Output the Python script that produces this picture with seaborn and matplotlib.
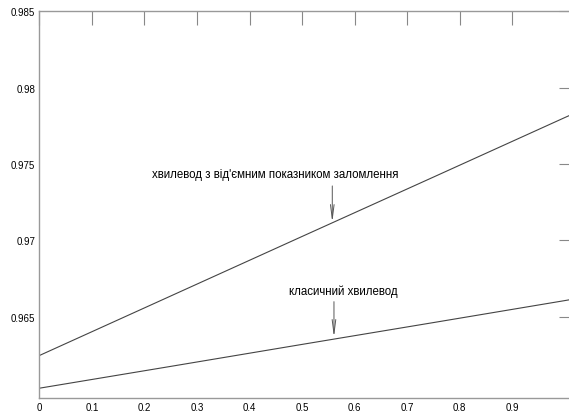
import matplotlib
matplotlib.use("Agg")
import matplotlib.pyplot as plt
import seaborn as sns
import pandas as pd

# значення
x_vals = [0.0, 0.25, 0.5, 0.75, 1.0, 1.015]
neg_index = [0.96245, 0.96635, 0.97025, 0.97414, 0.97804, 0.97827]
classic = [0.96031, 0.96174, 0.96318, 0.96461, 0.96605, 0.96614]

x_ticks = [0, 0.1, 0.2, 0.3, 0.4, 0.5, 0.6, 0.7, 0.8, 0.9]
x_ticklabels = ["0", "0.1", "0.2", "0.3", "0.4", "0.5", "0.6", "0.7", "0.8", "0.9"]
y_ticks = [0.965, 0.97, 0.975, 0.98, 0.985]
y_ticklabels = ["0.965", "0.97", "0.975", "0.98", "0.985"]

label_neg = "хвилевод з від'ємним показником заломлення"
label_classic = "класичний хвилевод"

sns.set_style("white")
plt.rcParams['font.family'] = ['Liberation Sans', 'DejaVu Sans']

df = pd.DataFrame({"x": x_vals, "neg": neg_index, "classic": classic})

fig = plt.figure(figsize=(5.69, 4.14), dpi=100)
ax = fig.add_axes([0.0691, 0.0370, 0.9374, 0.9333])

sns.lineplot(data=df, x="x", y="neg", ax=ax, color="#444444", linewidth=0.8)
sns.lineplot(data=df, x="x", y="classic", ax=ax, color="#444444", linewidth=0.8)

ax.set_xlim(0, 1.015)
ax.set_ylim(0.95969, 0.985)
ax.set_xticks(x_ticks)
ax.set_xticklabels(x_ticklabels)
ax.set_yticks(y_ticks)
ax.set_yticklabels(y_ticklabels)
ax.set_xlabel("")
ax.set_ylabel("")

ax.tick_params(direction="in", length=10, width=0.8, color="#888888",
               labelsize=7, labelcolor="black", top=True, right=True, pad=3)
for s in ax.spines.values():
    s.set_color("#999999")
    s.set_linewidth(1.0)

# підписи та стрілки
arrow = dict(arrowstyle="->,head_length=1.0,head_width=0.13", color="#555555", lw=0.7,
             shrinkA=0, shrinkB=0)
ax.annotate("", xy=(0.5575, 0.97118), xytext=(0.5575, 0.97356), arrowprops=arrow)
ax.annotate("", xy=(0.5607, 0.96365), xytext=(0.5607, 0.96598), arrowprops=arrow)
ax.text(0.4484, 0.97434, label_neg, ha="center", va="center", fontsize=8.3, color="black")
ax.text(0.5778, 0.9667, label_classic, ha="center", va="center", fontsize=8.3, color="black")

fig.savefig("out.png", dpi=100)
